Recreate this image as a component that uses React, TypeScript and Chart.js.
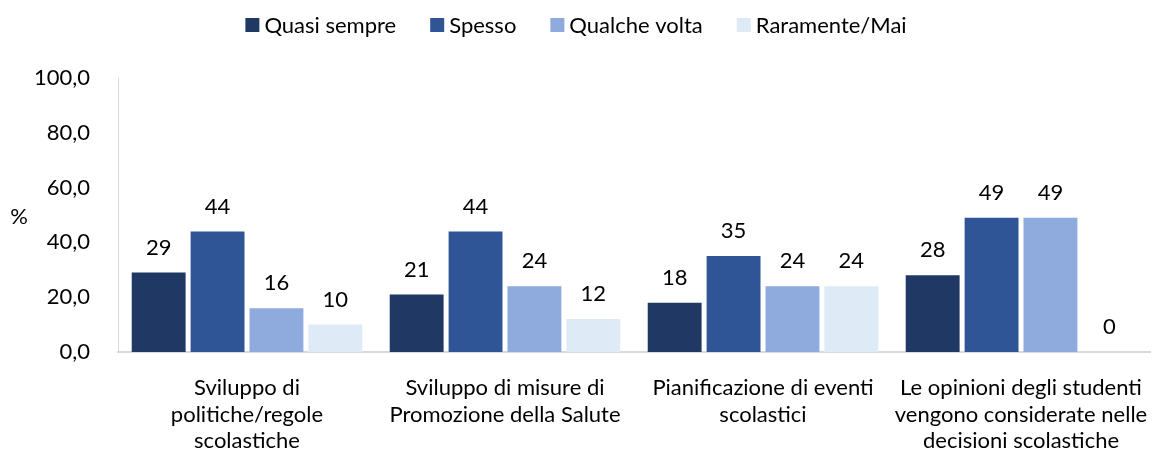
import React, { useEffect, useRef } from "react";
import { Chart, registerables } from "chart.js";

Chart.register(...registerables);

const categories: string[][] = [
  ["Sviluppo di", "politiche/regole", "scolastiche"],
  ["Sviluppo di misure di", "Promozione della Salute"],
  ["Pianificazione di eventi", "scolastici"],
  ["Le opinioni degli studenti", "vengono considerate nelle", "decisioni scolastiche"],
];
const seriesNames = ["Quasi sempre", "Spesso", "Qualche volta", "Raramente/Mai"];
const quasiSempre = [29, 21, 18, 28];
const spesso = [44, 44, 35, 49];
const qualcheVolta = [16, 24, 24, 49];
const raramenteMai = [10, 12, 24, 0];
const colors = ["#203864", "#2F5597", "#8FAADC", "#DEEBF7"];
const yTicks = [0, 20, 40, 60, 80, 100];

const FONT = "Lato, 'Noto Sans', sans-serif";
const FS = 22;

const labelPlugin = {
  id: "valueLabels",
  afterDatasetsDraw(chart: any) {
    const ctx = chart.ctx;
    ctx.save();
    ctx.font = `${FS}px ${FONT}`;
    ctx.fillStyle = "#000";
    ctx.textAlign = "center";
    ctx.textBaseline = "middle";
    chart.data.datasets.forEach((ds: any, i: number) => {
      const meta = chart.getDatasetMeta(i);
      meta.data.forEach((el: any, j: number) => {
        ctx.fillText(String(ds.data[j]), el.x, el.y - 25);
      });
    });
    ctx.restore();
  },
};

const extrasPlugin = {
  id: "extras",
  afterDraw(chart: any) {
    const ctx = chart.ctx;
    ctx.save();
    ctx.font = `${FS}px ${FONT}`;
    ctx.fillStyle = "#000";
    ctx.textBaseline = "middle";
    // "%" axis title
    ctx.textAlign = "center";
    ctx.fillText("%", 19, 217);
    // legend
    ctx.textAlign = "left";
    const box = 14;
    const boxGap = 5;
    const itemGap = 34;
    const items = chart.data.datasets.map((ds: any) => ({
      label: ds.label as string,
      color: ds.backgroundColor as string,
      w: ctx.measureText(ds.label).width,
    }));
    const total =
      items.reduce((s: number, it: any) => s + box + boxGap + it.w, 0) + itemGap * (items.length - 1);
    let x = (chart.width - total) / 2;
    const cy = 25;
    items.forEach((it: any) => {
      ctx.fillStyle = it.color;
      ctx.fillRect(x, cy - box / 2, box, box);
      ctx.fillStyle = "#000";
      ctx.fillText(it.label, x + box + boxGap, cy + 1);
      x += box + boxGap + it.w + itemGap;
    });
    ctx.restore();
  },
};

export default function App() {
  const ref = useRef<HTMLCanvasElement>(null);
  useEffect(() => {
    if (!ref.current) return;
    const values = [quasiSempre, spesso, qualcheVolta, raramenteMai];
    const chart = new Chart(ref.current, {
      type: "bar",
      data: {
        labels: categories,
        datasets: seriesNames.map((name, i) => ({
          label: name,
          data: values[i],
          backgroundColor: colors[i],
          borderWidth: 0,
          categoryPercentage: 0.913,
          barPercentage: 0.915,
        })),
      },
      options: {
        animation: false,
        responsive: false,
        maintainAspectRatio: false,
        layout: { padding: { left: 0, right: 2, top: 78, bottom: 0 } },
        plugins: {
          legend: { display: false },
          tooltip: { enabled: false },
        },
        scales: {
          x: {
            grid: { display: false },
            border: { display: true, color: "#d9d9d9", width: 2 },
            afterFit(scale: any) {
              scale.height = 98;
              scale.paddingLeft = 0;
              scale.paddingRight = 0;
            },
            ticks: {
              color: "#000",
              font: { family: FONT, size: FS, lineHeight: 1.2 },
              maxRotation: 0,
              autoSkip: false,
              padding: 15,
            },
          },
          y: {
            min: 0,
            max: 100,
            afterBuildTicks(scale: any) {
              scale.ticks = yTicks.map((v) => ({ value: v }));
            },
            afterFit(scale: any) {
              scale.width = 118;
            },
            grid: { display: false },
            border: { display: true, color: "#d9d9d9", width: 1 },
            ticks: {
              color: "#000",
              font: { family: FONT, size: FS },
              padding: 20,
              callback: (v: any) => Number(v).toFixed(1).replace(".", ","),
            },
          },
        },
      },
      plugins: [labelPlugin, extrasPlugin],
    });
    return () => chart.destroy();
  }, []);
  return (
    <div style={{ position: "fixed", left: 0, top: 0, width: 1152, height: 450, background: "#fff" }}>
      <canvas ref={ref} width={1152} height={450} style={{ width: 1152, height: 450 }} />
    </div>
  );
}
